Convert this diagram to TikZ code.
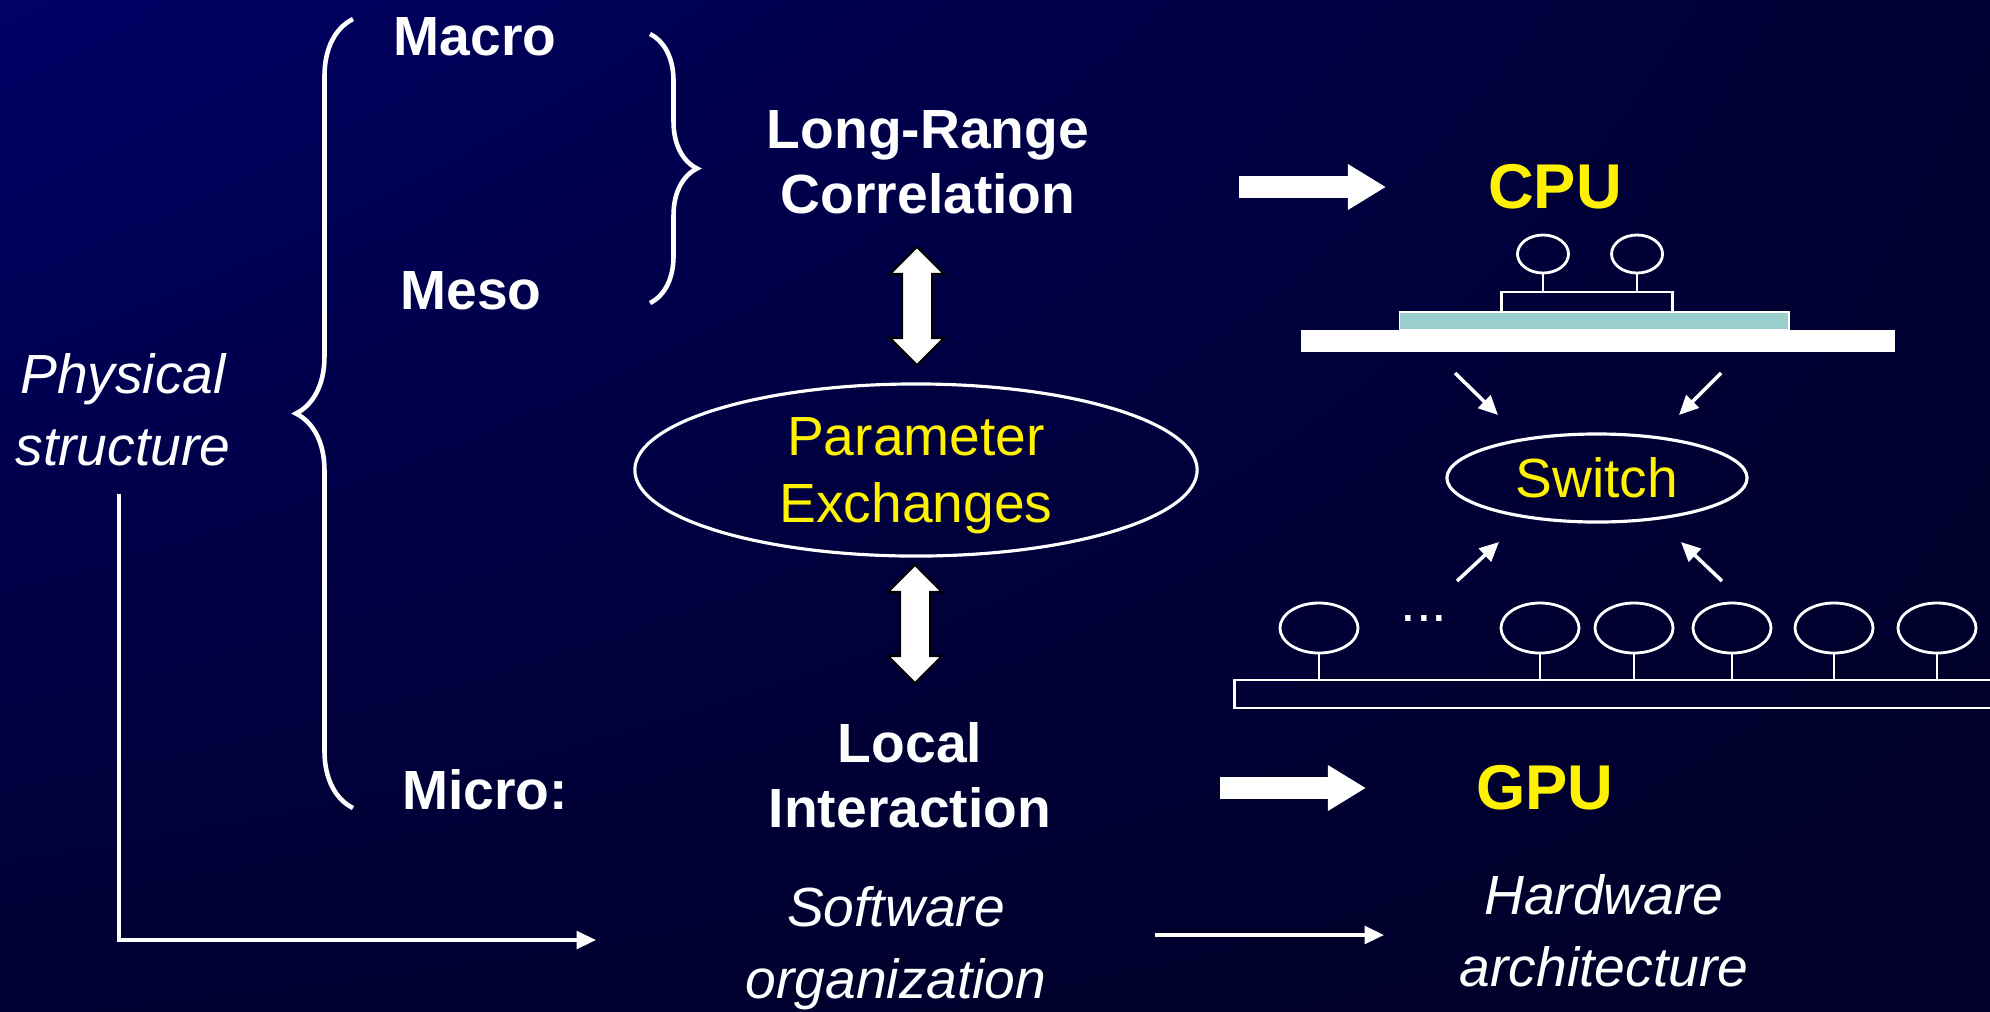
\documentclass[tikz,border=0pt]{standalone}
\usepackage{tikz}
\usepackage{xcolor}
\usepackage{fontspec}
\setmainfont{Liberation Sans}
\usetikzlibrary{positioning,arrows.meta,shapes.geometric,shapes.arrows,shadings,decorations.pathreplacing}

\definecolor{slidetop}{RGB}{0,0,102}
\definecolor{slidemid}{RGB}{0,0,50}
\definecolor{slidelow}{RGB}{0,0,40}
\definecolor{chipteal}{RGB}{155,207,207}

\tikzset{
  scalelbl/.style={text=white, align=center, inner sep=0pt, font=\fontsize{15.7}{18.6}\selectfont\bfseries},
  itallbl/.style={text=white, align=center, inner sep=0pt, font=\fontsize{15.7}{20.6}\selectfont\itshape},
  hwname/.style={text=yellow, inner sep=0pt, font=\fontsize{18}{20}\selectfont\bfseries},
  bubble/.style={ellipse, draw=white, line width=0.9pt, text=yellow, align=center, inner sep=0pt, font=\fontsize{15.7}{18.8}\selectfont},
  proc/.style={ellipse, draw=white, line width=0.8pt, inner sep=0pt, minimum width=0.78cm, minimum height=0.5cm},
  smallproc/.style={proc, minimum width=0.51cm, minimum height=0.38cm},
  fatarrow/.style={white, line width=0.22cm, -{Triangle[length=0.38cm,width=0.43cm]}},
  updown/.style={double arrow, draw=black, fill=white, line width=0.6pt, rotate=90, inner xsep=0pt, inner ysep=0.14cm, minimum height=1.18cm, minimum width=0.52cm, double arrow head extend=0.12cm},
  flow/.style={white, line width=1pt, -{Triangle[length=5.5pt,width=5pt]}},
  bracket/.style={white, line width=1.3pt, decorate, decoration={brace, amplitude=#1}}
}

\begin{document}
\begin{tikzpicture}[x=0.01cm, y=-0.01cm, node distance=0.94cm, on grid]
    \shade [upper left=slidetop, upper right=slidemid, lower left=slidemid, lower right=slidelow] (0,0) rectangle (1990,1011);
    \useasboundingbox (0,0) rectangle (1990,1011);

    \node [scalelbl] (macro) at (475,37) {Macro};
    \node [scalelbl] (meso) at (471,291) {Meso};
    \node [scalelbl] (micro) at (485,790) {Micro:};
    \node [itallbl] (phys) at (123,410) {Physical\\structure};
    \draw [bracket=0.57cm] (353,808) -- (353,19);
    \draw [bracket=0.47cm] (650,34) -- (650,303);

    \node [scalelbl] (lrc) at (928,162) {Long-Range\\Correlation};
    \node [bubble, text depth=0pt, minimum width=5.62cm, minimum height=1.72cm] (pex) at (916,470) {Parameter\\Exchanges};
    \node [scalelbl] (local) at (910,775) {Local\\Interaction};
    \node [updown] (ud1) at (917,306) {};
    \node [updown] (ud2) at (915,624) {};
    \node [itallbl] (soft) at (896,948) {Software\\organization};
    \node [itallbl] (hard) at (1604,931) {Hardware\\architecture};

    \node [hwname] (cpu) at (1555,187) {CPU};
    \node [hwname] (gpu) at (1545,788) {GPU};

    % cpu
    \node [smallproc] (c1) at (1543,254) {};
    \node [smallproc] (c2) [right=of c1] {};
    \node [draw=white, line width=0.8pt, inner sep=0pt, minimum width=1.71cm, minimum height=0.2cm] (core) at (1587,302) {};
    \node [draw=white, line width=0.5pt, fill=chipteal, inner sep=0pt, minimum width=3.89cm, minimum height=0.18cm] (die) at (1594,321) {};
    \node [fill=white, inner sep=0pt, minimum width=5.94cm, minimum height=0.22cm] (board) at (1598,341) {};
    \draw [white, line width=0.8pt] (c1) -- (c1 |- core.north) (c2) -- (c2 |- core.north);

    \node [bubble, minimum width=3cm, minimum height=0.88cm] (switch) at (1597,478) {Switch};

    % gpu
    \node [proc] (p1) at (1319,628) {};
    \node [text=white, font=\fontsize{16}{16}\selectfont] (dots) at (1424,618) {...};
    \node [proc] (p2) at (1540,628) {};
    \node [proc] (p3) at (1634,628) {};
    \node [proc] (p4) at (1732,628) {};
    \node [proc] (p5) at (1834,628) {};
    \node [proc] (p6) at (1937,628) {};
    \node [draw=white, line width=0.8pt, inner sep=0pt, minimum width=7.75cm, minimum height=0.28cm] (bus) at (1622,694) {};
    \draw [white, line width=0.8pt]
        (p1) -- (p1 |- bus.north) (p2) -- (p2 |- bus.north)
        (p3) -- (p3 |- bus.north) (p4) -- (p4 |- bus.north)
        (p5) -- (p5 |- bus.north) (p6) -- (p6 |- bus.north);

    \coordinate (ua) at (1455,373); \coordinate (ub) at (1498,415);
    \coordinate (va) at (1721,373); \coordinate (vb) at (1679,415);
    \coordinate (la) at (1457,581); \coordinate (lb) at (1499,542);
    \coordinate (ma) at (1722,581); \coordinate (mb) at (1681,542);
    \draw [flow] (ua) -- (ub);
    \draw [flow] (va) -- (vb);
    \draw [flow] (la) -- (lb);
    \draw [flow] (ma) -- (mb);

    \coordinate (fa1) at (1239,187); \coordinate (fb1) at (1386,187);
    \coordinate (fa2) at (1220,788); \coordinate (fb2) at (1366,788);
    \draw [fatarrow] (fa1) -- (fb1);
    \draw [fatarrow] (fa2) -- (fb2);

    \coordinate (physout) at (119,494); \coordinate (softin) at (596,940);
    \coordinate (swout) at (1155,935); \coordinate (hwin) at (1384,935);
    \draw [flow] (physout) |- (softin);
    \draw [flow] (swout) -- (hwin);
\end{tikzpicture}
\end{document}
